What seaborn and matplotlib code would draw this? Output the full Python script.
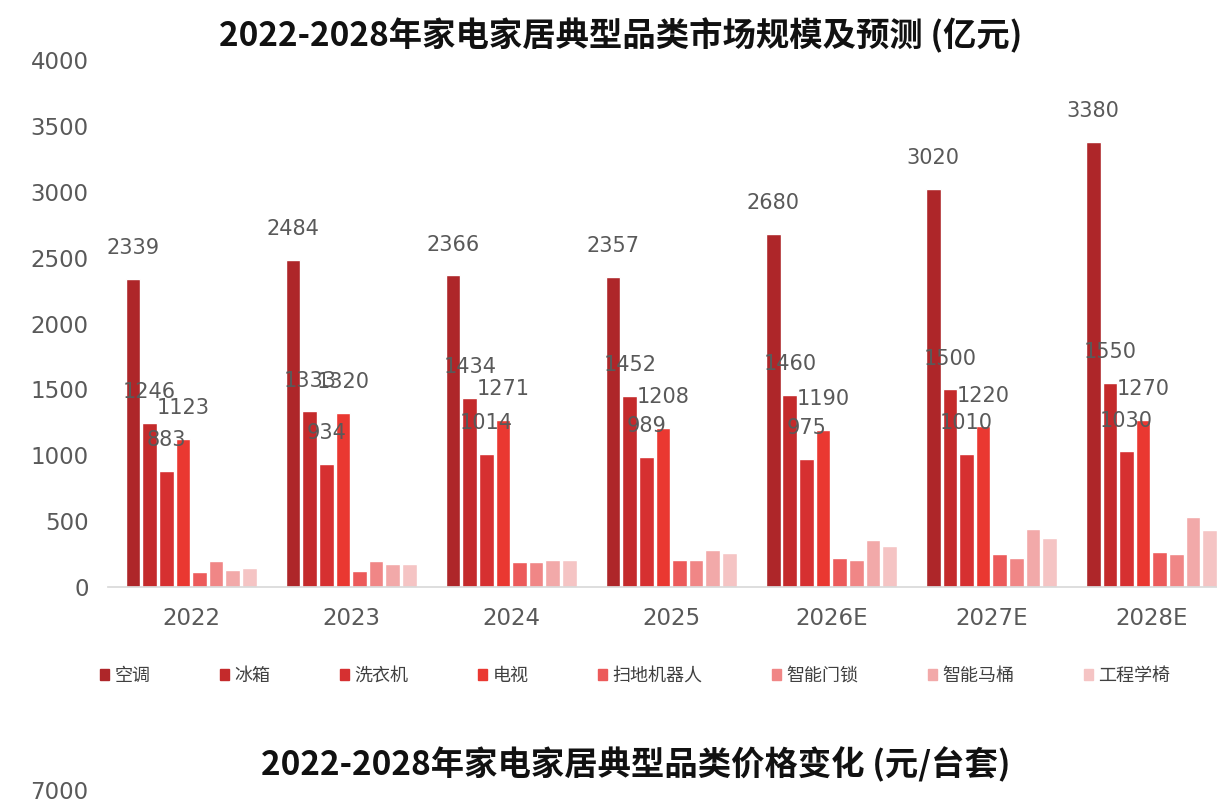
import pandas as pd
import matplotlib.pyplot as plt
import seaborn as sns

# === Данные ===
YEARS = ["2022", "2023", "2024", "2025", "2026E", "2027E", "2028E"]
CATEGORIES = ["空调", "冰箱", "洗衣机", "电视", "扫地机器人", "智能门锁", "智能马桶", "工程学椅"]

ac = [2339, 2484, 2366, 2357, 2680, 3020, 3380]
fridge = [1246, 1333, 1434, 1452, 1460, 1500, 1550]
washer = [883, 934, 1014, 989, 975, 1010, 1030]
tv = [1123, 1320, 1271, 1208, 1190, 1220, 1270]
robot = [112, 126, 190, 205, 220, 253, 265]
lock = [195, 202, 190, 205, 205, 222, 253]
toilet = [132, 172, 205, 280, 360, 440, 535]
chair = [143, 172, 205, 258, 313, 376, 434]

COLORS = ["#AE2629", "#C42A2B", "#D63031", "#EA3831",
          "#EC5A5A", "#F08686", "#F2A9A9", "#F5C4C4"]

LABELED = 4  # подписи только у первых четырёх рядов
NUM_FONT = ["DejaVu Sans"]
GRAY = "#595959"


def main():
    series = [ac, fridge, washer, tv, robot, lock, toilet, chair]
    df = pd.DataFrame(
        [(y, c, s[i]) for c, s in zip(CATEGORIES, series) for i, y in enumerate(YEARS)],
        columns=["year", "category", "value"],
    )

    sns.set_theme(style="white")
    plt.rcParams["font.family"] = ["Noto Sans CJK SC", "DejaVu Sans"]

    fig = plt.figure(figsize=(12.17, 8.01), dpi=100)
    ax = fig.add_axes([0.0887, 0.267, 0.9113, 0.658])

    sns.barplot(data=df, x="year", y="value", hue="category", order=YEARS,
                hue_order=CATEGORIES, palette=COLORS, width=0.83, gap=0.12,
                saturation=1, legend=False, ax=ax)

    for cont in ax.containers[:LABELED]:
        ax.bar_label(cont, fmt="%d", padding=15, fontsize=15, color=GRAY,
                     family=NUM_FONT)

    ax.set_ylim(0, 4000)
    ax.set_xlim(-0.52, 6.41)
    ax.set_yticks(range(0, 4001, 500))
    ax.set_xlabel("")
    ax.set_ylabel("")
    ax.tick_params(axis="both", length=0, labelcolor=GRAY)
    ax.tick_params(axis="x", pad=14, labelsize=16.5)
    ax.tick_params(axis="y", pad=14, labelsize=16.5)
    for lbl in ax.get_xticklabels() + ax.get_yticklabels():
        lbl.set_family(NUM_FONT)
    for side in ["top", "right", "left"]:
        ax.spines[side].set_visible(False)
    ax.spines["bottom"].set_color("#D9D9D9")
    ax.grid(False)

    fig.text(0.51, 0.956, "2022-2028年家电家居典型品类市场规模及预测 (亿元)",
             ha="center", va="center", fontsize=24, fontweight="bold", color="#111111")

    handles = [plt.Rectangle((0, 0), 1, 1, color=c) for c in COLORS]
    fig.legend(handles, CATEGORIES, loc="center", bbox_to_anchor=(0.522, 0.156),
               ncol=8, frameon=False, fontsize=13, labelcolor="#404040",
               handlelength=0.5, handleheight=0.6, handletextpad=0.3,
               columnspacing=3.85)

    # === Второй график (виден только заголовок и верхняя метка) ===
    ax2 = fig.add_axes([0.0887, -0.5, 0.9113, 0.5137])
    ax2.set_ylim(0, 7000)
    ax2.set_yticks([7000])
    ax2.set_xticks([])
    ax2.tick_params(axis="y", length=0, labelsize=16.5, labelcolor=GRAY, pad=14)
    for lbl in ax2.get_yticklabels():
        lbl.set_family(NUM_FONT)
    for side in ax2.spines:
        ax2.spines[side].set_visible(False)
    fig.text(0.522, 0.045, "2022-2028年家电家居典型品类价格变化 (元/台套)",
             ha="center", va="center", fontsize=24, fontweight="bold", color="#111111")

    fig.savefig("out.png", dpi=100)
    plt.close(fig)


if __name__ == "__main__":
    main()
